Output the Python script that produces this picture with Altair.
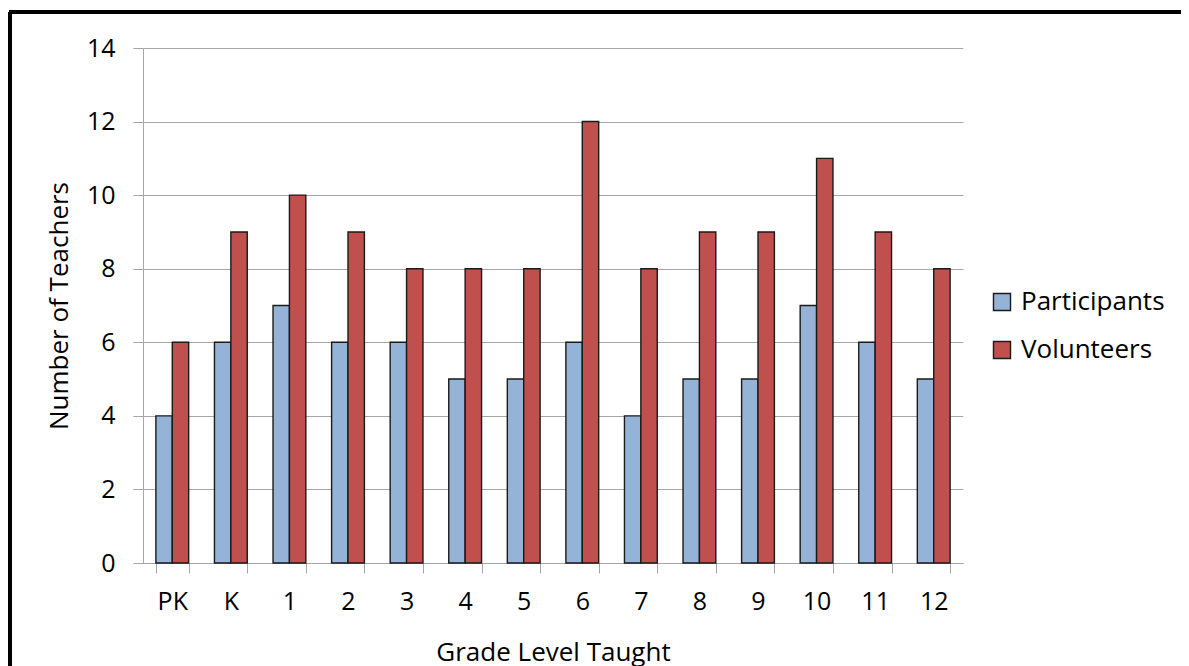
import altair as alt
import pandas as pd

grades = ["PK", "K", "1", "2", "3", "4", "5", "6", "7", "8", "9", "10", "11", "12"]
participants = [4, 6, 7, 6, 6, 5, 5, 6, 4, 5, 5, 7, 6, 5]
volunteers = [6, 9, 10, 9, 8, 8, 8, 12, 8, 9, 9, 11, 9, 8]
series = ["Participants", "Volunteers"]
colors = ["#95B3D7", "#C0504D"]

rows = []
for g, p, v in zip(grades, participants, volunteers):
    rows.append({"grade": g, "series": "Participants", "value": p})
    rows.append({"grade": g, "series": "Volunteers", "value": v})
df = pd.DataFrame(rows)

FONT = "Open Sans"

bars = alt.Chart(df).mark_bar(stroke="#1a1a1a", strokeWidth=1.4).encode(
    x=alt.X("grade:N", sort=grades,
            scale=alt.Scale(paddingInner=0.44, paddingOuter=0.22),
            axis=alt.Axis(title="Grade Level Taught", labelAngle=0, tickBand="extent",
                          tickSize=10, labelPadding=16, titlePadding=25,
                          domainColor="#a6a6a6", tickColor="#a6a6a6",
                          labelFontSize=25, titleFontSize=26, labelColor="#000",
                          titleColor="#000", titleFontWeight="normal",
                          labelFont=FONT, titleFont=FONT, grid=False)),
    xOffset=alt.XOffset("series:N", sort=series),
    y=alt.Y("value:Q", scale=alt.Scale(domain=[0, 14], nice=False),
            axis=alt.Axis(title="Number of Teachers", values=list(range(0, 15, 2)),
                          tickSize=10, labelPadding=18, titlePadding=14,
                          domainColor="#a6a6a6", tickColor="#a6a6a6",
                          gridColor="#a6a6a6", grid=True,
                          labelFontSize=25, titleFontSize=26, labelColor="#000",
                          titleColor="#000", titleFontWeight="normal",
                          labelFont=FONT, titleFont=FONT)),
    color=alt.Color("series:N", sort=series,
                    scale=alt.Scale(domain=series, range=colors),
                    legend=alt.Legend(title=None, orient="none", legendX=846, legendY=241,
                                      symbolType="square", symbolSize=290,
                                      symbolStrokeColor="#1a1a1a", symbolStrokeWidth=1.4,
                                      labelFontSize=26, labelFont=FONT, labelColor="#000",
                                      rowPadding=22, labelOffset=6)),
)

frame_left = alt.Chart(df).mark_rule(color="#000", strokeWidth=3).encode(
    x=alt.value(-133), y=alt.value(-36), y2=alt.value(700))
frame_top = alt.Chart(df).mark_rule(color="#000", strokeWidth=3).encode(
    x=alt.value(-134), x2=alt.value(1300), y=alt.value(-36))

chart = alt.layer(bars, frame_left, frame_top).properties(
    width=820, height=515,
    padding={"left": 135, "top": 40, "right": 218, "bottom": 103},
    autosize=alt.AutoSizeParams(type="none"),
    background="white",
).configure_view(stroke=None)

chart.save("out.html", embed_options={"renderer": "svg", "actions": False})
